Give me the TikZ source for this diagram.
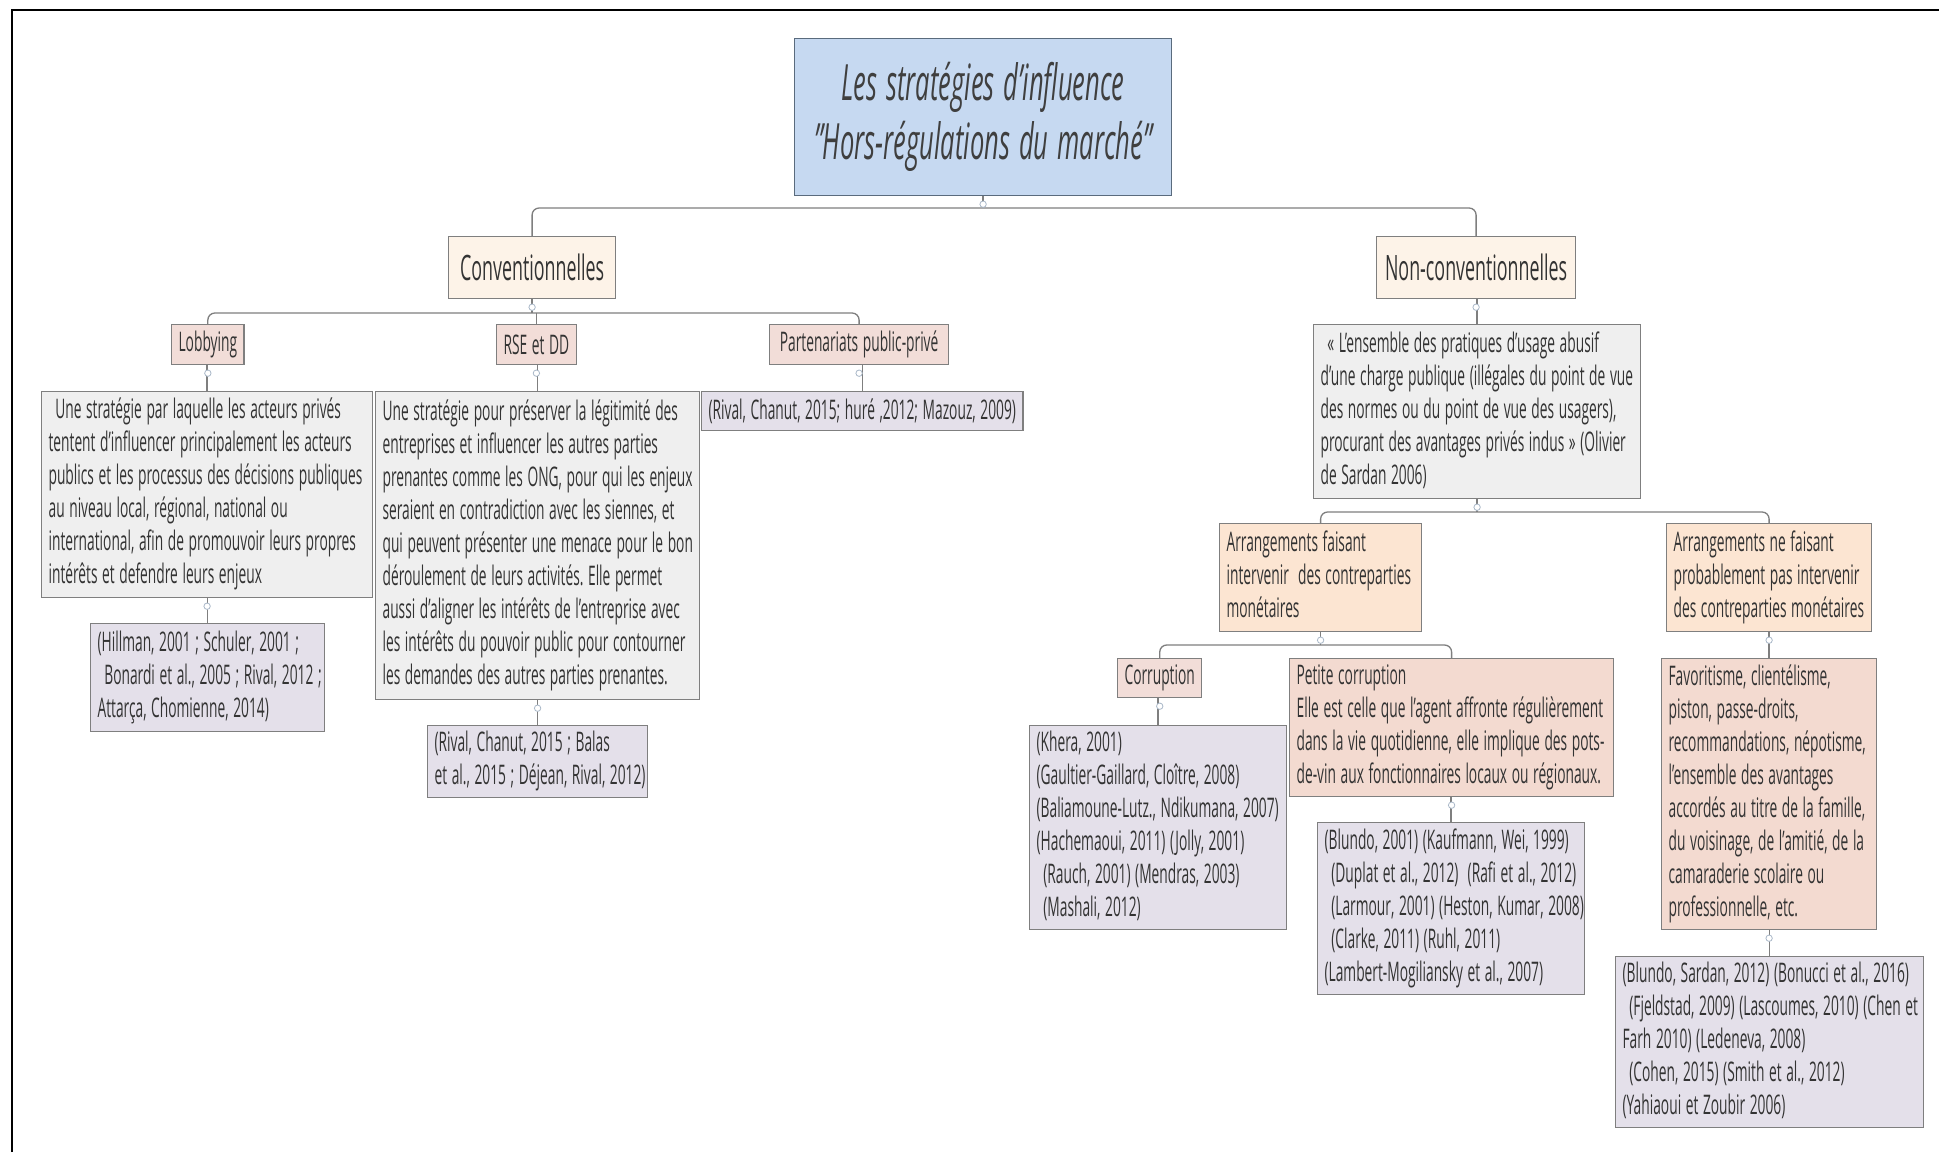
\documentclass[tikz,border=0pt]{standalone}
\usepackage{fontspec}
\setmainfont{Open Sans}[FakeStretch=0.51]
\newcommand{\bodyfont}{\fontsize{27}{33}\selectfont}
\newcommand{\midfont}{\fontsize{35}{40}\selectfont}
\newcommand{\titlefont}{\fontsize{50}{59}\selectfont\itshape}
\newcommand{\lsp}{\hspace*{0.25em}}
\newcommand{\lns}[1]{\begin{tabular}{@{}l@{}}#1\end{tabular}}
\definecolor{croot}{HTML}{C6D9F1}
\definecolor{rootline}{HTML}{5A6B7D}
\definecolor{cconv}{HTML}{FDF3E8}
\definecolor{ccat}{HTML}{F2DDD8}
\definecolor{cdesc}{HTML}{EFEFEF}
\definecolor{crefs}{HTML}{E4E0EA}
\definecolor{carr}{HTML}{FCE5D2}
\definecolor{cpet}{HTML}{F3DAD0}
\definecolor{boxline}{HTML}{7F7F7F}
\definecolor{connline}{HTML}{7F7F7F}
\definecolor{txt}{HTML}{333333}
\definecolor{titletxt}{HTML}{3F3F3F}
\definecolor{knobline}{HTML}{A9B8C8}
\begin{document}
\begin{tikzpicture}[x=1pt,y=-1pt,
  cardbox/.style={draw=boxline, line width=1.2pt, anchor=north west, inner xsep=7pt, inner ysep=3pt, align=left, font=\bodyfont, text=txt, execute at begin node={\frenchspacing\spaceskip=4.6pt plus 0.5pt minus 0.5pt\xspaceskip=\spaceskip\relax}},
  onebox/.style={cardbox, align=center},
  conn/.style={draw=connline, line width=1.3pt, rounded corners=7pt},
  knob/.style={draw=knobline, fill=white, line width=0.8pt}]
\useasboundingbox (0,0) rectangle (1939,1152);
\fill[white] (0,0) rectangle (1939,1152);
\draw[line width=2.5pt] (12,1152) -- (12,10) -- (1939,10);

% nodes
\node[onebox, fill=croot, draw=rootline, minimum width=377pt, minimum height=157pt, font=\titlefont, text=titletxt, execute at begin node={\spaceskip=9pt\relax}] (root) at (794,38) {Les stratégies d'influence\\"Hors-régulations du marché"};

\node[onebox, fill=cconv, minimum width=167pt, minimum height=62pt, font=\midfont] (conv) at (448,236) {Conventionnelles};
\node[onebox, fill=cconv, minimum width=199pt, minimum height=62pt, font=\midfont] (nonconv) at (1376,236) {Non-conventionnelles};

\node[onebox, fill=ccat, minimum width=71pt, minimum height=40pt] (lob) at (171,324) {Lobbying};
\node[onebox, fill=ccat, minimum width=79pt, minimum height=40pt] (rse) at (496,324) {RSE et DD};
\node[onebox, fill=ccat, minimum width=179pt, minimum height=40pt] (ppp) at (769,324) {Partenariats public-privé};

\node[cardbox, fill=cdesc, text width=317pt, minimum height=206pt] (lobdesc) at (41,391) {\lns{\lsp Une stratégie par laquelle les acteurs privés\\tentent d'influencer principalement les acteurs\\publics et les processus des décisions publiques\\au niveau local, régional, national ou\\international, afin de promouvoir leurs propres\\intérêts et defendre leurs enjeux}};

\node[cardbox, fill=cdesc, text width=310pt, minimum height=308pt] (rsedesc) at (375,391) {\lns{Une stratégie pour préserver la légitimité des\\entreprises et influencer les autres parties\\prenantes comme les ONG, pour qui les enjeux\\seraient en contradiction avec les siennes, et\\qui peuvent présenter une menace pour le bon\\déroulement de leurs activités. Elle permet\\aussi d'aligner les intérêts de l’entreprise avec\\les intérêts du pouvoir public pour contourner\\les demandes des autres parties prenantes.}};

\node[onebox, fill=crefs, minimum width=319pt, minimum height=39pt] (ppprefs) at (701,391) {(Rival, Chanut, 2015; huré ,2012; Mazouz, 2009)};

\node[cardbox, fill=crefs, text width=220pt, minimum height=108pt] (lobrefs) at (90,623) {\lns{(Hillman, 2001 ; Schuler, 2001 ;\\\lsp Bonardi et al., 2005 ; Rival, 2012 ;\\Attarça, Chomienne, 2014)}};

\node[cardbox, fill=crefs, text width=206pt, minimum height=71pt] (rserefs) at (427,725) {\lns{(Rival, Chanut, 2015 ; Balas\\et al., 2015 ; Déjean, Rival, 2012)}};

\node[cardbox, fill=cdesc, text width=313pt, minimum height=174pt] (ncdesc) at (1313,324) {\lns{\lsp « L’ensemble des pratiques d’usage abusif\\d’une charge publique (illégales du point de vue\\des normes ou du point de vue des usagers),\\procurant des avantages privés indus » (Olivier\\de Sardan 2006)}};

\node[cardbox, fill=carr, text width=188pt, minimum height=108pt] (arr1) at (1219,523) {\lns{Arrangements faisant\\intervenir\ \ des contreparties\\monétaires}};
\node[cardbox, fill=carr, text width=191pt, minimum height=108pt] (arr2) at (1666,523) {\lns{Arrangements ne faisant\\probablement pas intervenir\\des contreparties monétaires}};

\node[onebox, fill=ccat, minimum width=81pt, minimum height=39pt] (corr) at (1117,658) {Corruption};
\node[cardbox, fill=cpet, text width=310pt, minimum height=137pt] (petite) at (1289,658) {\lns{Petite corruption\\Elle est celle que l’agent affronte régulièrement\\dans la vie quotidienne, elle implique des pots-\\de-vin aux fonctionnaires locaux ou régionaux.}};

\node[cardbox, fill=crefs, text width=243pt, minimum height=204pt] (corrrefs) at (1029,725) {\lns{(Khera, 2001)\\(Gaultier-Gaillard, Cloître, 2008)\\(Baliamoune-Lutz., Ndikumana, 2007)\\(Hachemaoui, 2011) (Jolly, 2001)\\\lsp(Rauch, 2001) (Mendras, 2003)\\\lsp(Mashali, 2012)}};

\node[cardbox, fill=crefs, text width=253pt, minimum height=172pt] (petrefs) at (1317,822) {\lns{(Blundo, 2001) (Kaufmann, Wei, 1999)\\\lsp(Duplat et al., 2012)\ \ (Rafi et al., 2012)\\\lsp(Larmour, 2001) (Heston, Kumar, 2008)\\\lsp(Clarke, 2011) (Ruhl, 2011)\\(Lambert-Mogiliansky et al., 2007)}};

\node[cardbox, fill=cpet, text width=201pt, minimum height=271pt] (fav) at (1661,658) {\lns{Favoritisme, clientélisme,\\piston, passe-droits,\\recommandations, népotisme,\\l’ensemble des avantages\\accordés au titre de la famille,\\du voisinage, de l’amitié, de la\\camaraderie scolaire ou\\professionnelle, etc.}};

\node[cardbox, fill=crefs, text width=294pt, minimum height=171pt] (favrefs) at (1615,956) {\lns{(Blundo, Sardan, 2012) (Bonucci et al., 2016)\\\lsp(Fjeldstad, 2009) (Lascoumes, 2010) (Chen et\\Farh 2010) (Ledeneva, 2008)\\\lsp(Cohen, 2015) (Smith et al., 2012)\\(Yahiaoui et Zoubir 2006)}};

% bus levels
\coordinate (bus1) at (0,208);
\coordinate (bus2) at (0,313);
\coordinate (bus3) at (0,512);
\coordinate (bus4) at (0,645);

% connectors
\draw[conn] (root.south) -- (root.south |- bus1);
\draw[conn] (conv.north) -- (conv.north |- bus1) -| (nonconv.north);

\draw[conn] (conv.south) -- (conv.south |- bus2);
\draw[conn] (lob.north) -- (lob.north |- bus2) -| (ppp.north);
\draw[conn] (rse.north) -- (rse.north |- bus2);

\draw[conn] (lobdesc.north |- lob.south) -- (lobdesc.north);
\draw[conn] (rsedesc.north |- rse.south) -- (rsedesc.north);
\draw[conn] (ppprefs.north |- ppp.south) -- (ppprefs.north);
\draw[conn] (lobrefs.north |- lobdesc.south) -- (lobrefs.north);
\draw[conn] (rserefs.north |- rsedesc.south) -- (rserefs.north);

\draw[conn] (ncdesc.north |- nonconv.south) -- (ncdesc.north);
\draw[conn] (ncdesc.south) -- (ncdesc.south |- bus3);
\draw[conn] (arr1.north) -- (arr1.north |- bus3) -| (arr2.north);

\draw[conn] (arr1.south) -- (arr1.south |- bus4);
\draw[conn] (corr.north) -- (corr.north |- bus4) -| (petite.north);
\draw[conn] (corrrefs.north |- corr.south) -- (corrrefs.north);
\draw[conn] (petrefs.north |- petite.south) -- (petrefs.north);
\draw[conn] (fav.north |- arr2.south) -- (fav.north);
\draw[conn] (favrefs.north |- fav.south) -- (favrefs.north);

% collapse knobs
\foreach \n in {root,conv,nonconv,lob,rse,ppp,lobdesc,rsedesc,ncdesc,arr1,arr2,corr,petite,fav}
  \draw[knob] ([yshift=-8pt]\n.south) circle (3.2pt);
\end{tikzpicture}
\end{document}
